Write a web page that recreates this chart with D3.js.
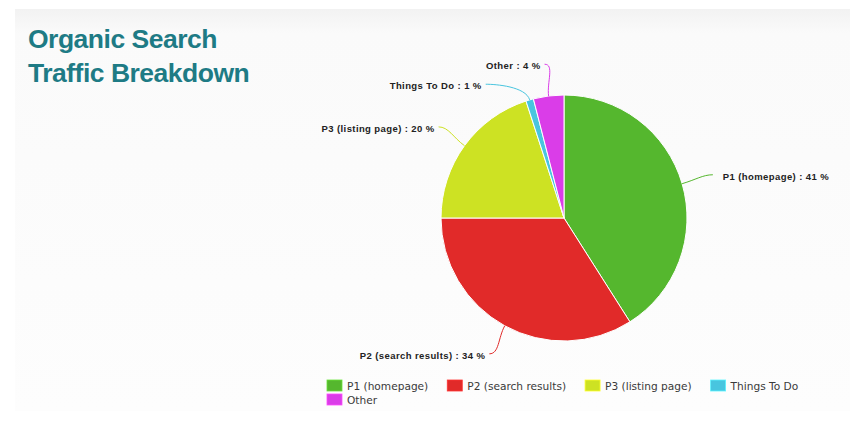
<!DOCTYPE html>
<html><head><meta charset="utf-8">
<script src="https://cdn.jsdelivr.net/npm/d3@7"></script>
<style>
html,body{margin:0;padding:0;background:#fff;}
svg{display:block;}
</style></head>
<body>
<svg id="chart" width="863" height="433"></svg>
<script>
const categories = ["P1 (homepage)", "P2 (search results)", "P3 (listing page)", "Things To Do", "Other"];
const values = [41, 34, 20, 1, 4];
const colors = ["#55b72e", "#e12a29", "#cde223", "#48c5df", "#da3de8"];
const titleLines = ["Organic Search", "Traffic Breakdown"];

const svg = d3.select("#chart");
const defs = svg.append("defs");
const grad = defs.append("linearGradient").attr("id","bg").attr("x1",0).attr("y1",0).attr("x2",0).attr("y2",1);
grad.append("stop").attr("offset","0%").attr("stop-color","#f2f2f2");
grad.append("stop").attr("offset","6%").attr("stop-color","#fafafa");
grad.append("stop").attr("offset","100%").attr("stop-color","#fdfdfd");
svg.append("rect").attr("x",15).attr("y",9).attr("width",835).attr("height",402).attr("fill","url(#bg)");

// Title
svg.append("g").selectAll("text").data(titleLines).join("text")
  .attr("x", 28).attr("y", (d,i) => 48 + i*34)
  .attr("font-family", "Liberation Sans, Arial, sans-serif")
  .attr("font-weight", "bold").attr("font-size", 26.5)
  .attr("letter-spacing", -0.5)
  .attr("fill", "#1e7b85")
  .text(d => d);

// Pie
const cx = 564, cy = 218, R = 123, LR = 155;
const data = categories.map((c,i) => ({name:c, value:values[i], color:colors[i]}));
const pie = d3.pie().sort(null).value(d => d.value);
const arcs = pie(data);
const arc = d3.arc().innerRadius(0).outerRadius(R);
const g = svg.append("g").attr("transform", `translate(${cx},${cy})`);
g.selectAll("path.slice").data(arcs).join("path").attr("class","slice")
  .attr("d", arc).attr("fill", d => d.data.color)
  .attr("stroke", "#ffffff").attr("stroke-width", 1);

// label layout
const total = d3.sum(values);
const lab = arcs.map(a => {
  const m = (a.startAngle + a.endAngle)/2;
  return {a, m, side: Math.sin(m) >= 0 ? 1 : -1,
    ex: R*Math.sin(m), ey: -R*Math.cos(m),
    lx: LR*Math.sin(m), ly: -LR*Math.cos(m),
    text: `${a.data.name} : ${Math.round(a.data.value/total*100)} %`};
});
[1,-1].forEach(s => {
  const side = lab.filter(l => l.side === s).sort((p,q) => p.ly - q.ly);
  for (let i=1;i<side.length;i++) {
    if (side[i].ly - side[i-1].ly < 20) side[i].ly = side[i-1].ly + 20;
  }
  side.forEach(l => {
    const dy = Math.min(Math.abs(l.ly), LR);
    l.lx = s * Math.sqrt(LR*LR - dy*dy);
  });
});
lab.forEach(l => {
  const c1x = (R+14)*Math.sin(l.m), c1y = -(R+14)*Math.cos(l.m);
  const c2x = l.lx - l.side*10, c2y = l.ly;
  g.append("path")
    .attr("d", `M${l.ex},${l.ey} C${c1x},${c1y} ${c2x},${c2y} ${l.lx},${l.ly}`)
    .attr("fill","none").attr("stroke", l.a.data.color).attr("stroke-width", 1);
  g.append("text")
    .attr("x", l.lx + (l.side > 0 ? 10 : -4))
    .attr("y", l.ly + 5)
    .attr("text-anchor", l.side > 0 ? "start" : "end")
    .attr("font-family", "Liberation Sans, Arial, sans-serif")
    .attr("font-weight", "bold").attr("font-size", 9.5)
    .attr("letter-spacing", 0.4)
    .attr("fill", "#222")
    .text(l.text);
});

// Legend
const legend = svg.append("g");
let lx = 327, ly = 380; const maxX = 830;
data.forEach(d => {
  const it = legend.append("g");
  const t = it.append("text").attr("x", 20).attr("y", 10)
    .attr("font-family", "DejaVu Sans, sans-serif").attr("font-size", 10.6)
    .attr("fill", "#3a3a3a").text(d.name);
  const w = 20 + t.node().getComputedTextLength();
  if (lx + w > maxX) { lx = 327; ly += 14; }
  it.attr("transform", `translate(${lx},${ly})`);
  it.insert("rect","text").attr("x",0).attr("y",0).attr("width",15).attr("height",11)
    .attr("fill", d.color).attr("stroke", d3.color(d.color).brighter(0.6)).attr("stroke-width",0.8);
  lx += w + 19;
});
</script>
</body></html>
